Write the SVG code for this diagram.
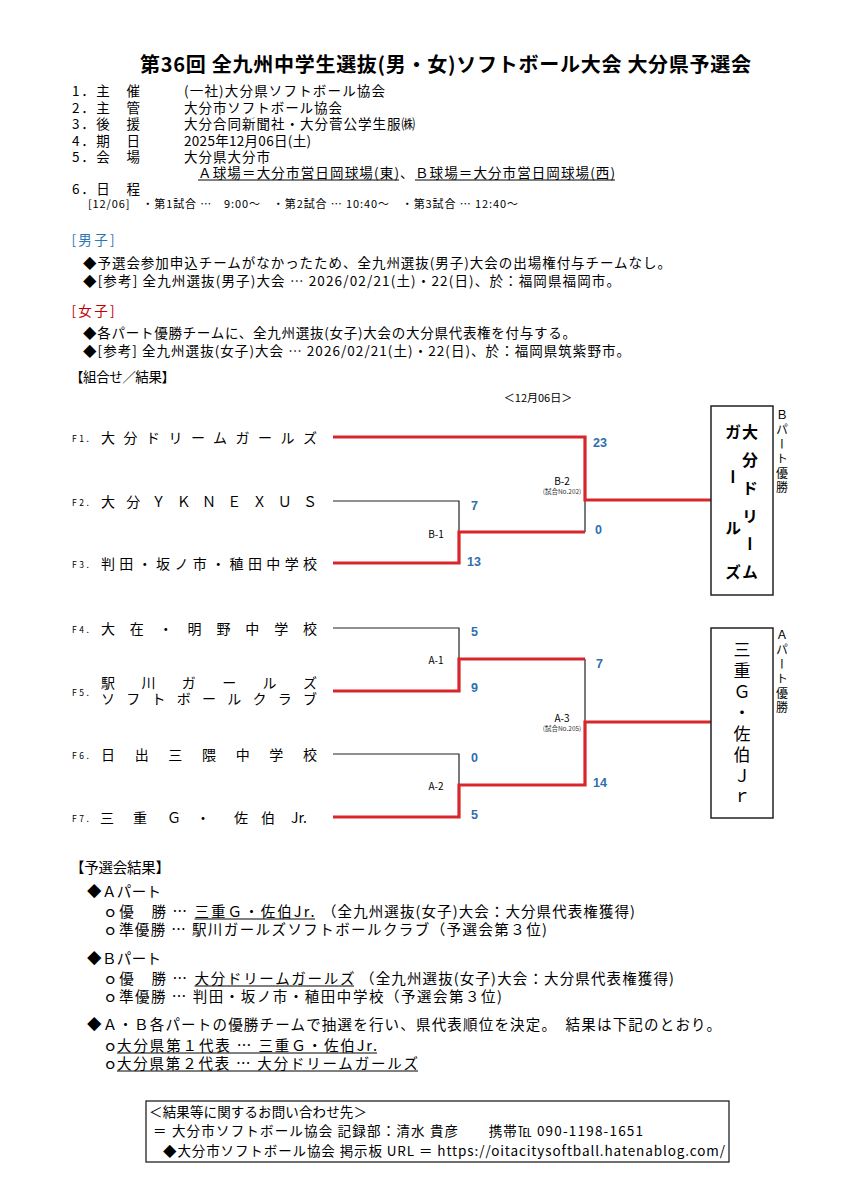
<svg xmlns="http://www.w3.org/2000/svg" width="848" height="1200" viewBox="0 0 848 1200">
<style>
text{font-family:"Noto Sans CJK JP","Noto Sans",sans-serif;fill:#000;dominant-baseline:central}
.title{font-size:20px;font-weight:bold}
.h{font-size:13.5px}
.s{font-size:11px}
.r{font-size:14.5px}
.f{font-size:13.5px}
.team{font-size:14px}
.fl{font-size:8.5px;letter-spacing:2.5px}
.lbl{font-size:10px;text-anchor:middle}
.no{font-size:6.5px;text-anchor:middle;fill:#333}
.sc{font-family:"Liberation Sans",Arial,sans-serif;font-size:12.5px;font-weight:bold;fill:#2e6fad}
.v{writing-mode:vertical-rl}
.red{fill:none;stroke:#d8262a;stroke-width:3.2}
.blk{fill:none;stroke:#222;stroke-width:1.2}
.box{fill:#fff;stroke:#222;stroke-width:1.5}
.ul{stroke:#000;stroke-width:1}
</style>
<rect width="848" height="1200" fill="#fff"/>

<g id="header">
<text class="title" x="140" y="63" textLength="611">第36回 全九州中学生選抜(男・女)ソフトボール大会 大分県予選会</text>
<text class="h" x="72" y="90" textLength="68">1．主　催</text>
<text class="h" x="184" y="90" textLength="201">(一社)大分県ソフトボール協会</text>
<text class="h" x="72" y="106.5" textLength="68">2．主　管</text>
<text class="h" x="184" y="106.5" textLength="158">大分市ソフトボール協会</text>
<text class="h" x="72" y="123" textLength="68">3．後　援</text>
<text class="h" x="184" y="123" textLength="231">大分合同新聞社・大分菅公学生服㈱</text>
<text class="h" x="72" y="139.5" textLength="68">4．期　日</text>
<text class="h" x="184" y="139.5" textLength="127">2025年12月06日(土)</text>
<text class="h" x="72" y="156" textLength="68">5．会　場</text>
<text class="h" x="184" y="156" textLength="86">大分県大分市</text>
<text class="h" x="198" y="172" textLength="201">Ａ球場＝大分市営日岡球場(東)</text>
<text class="h" x="400" y="172">、</text>
<text class="h" x="415" y="172" textLength="200">Ｂ球場＝大分市営日岡球場(西)</text>
<line class="ul" x1="198" y1="180" x2="399" y2="180"/>
<line class="ul" x1="415" y1="180" x2="615" y2="180"/>
<text class="h" x="72" y="188" textLength="68">6．日　程</text>
<text class="s" x="88" y="203" textLength="430">[12/06]　・第1試合 …　9:00～　・第2試合 … 10:40～　・第3試合 … 12:40～</text>
</g>

<g id="notes">
<text class="h" x="71.5" y="239" textLength="43" style="fill:#2e75b6">[男子]</text>
<text class="h" x="83" y="262" textLength="588">◆予選会参加申込チームがなかったため、全九州選抜(男子)大会の出場権付与チームなし。</text>
<text class="h" x="83" y="280" textLength="537">◆[参考] 全九州選抜(男子)大会 … 2026/02/21(土)・22(日)、於：福岡県福岡市。</text>
<text class="h" x="71.5" y="310" textLength="43" style="fill:#c00000">[女子]</text>
<text class="h" x="83" y="332" textLength="493">◆各パート優勝チームに、全九州選抜(女子)大会の大分県代表権を付与する。</text>
<text class="h" x="83" y="350" textLength="547">◆[参考] 全九州選抜(女子)大会 … 2026/02/21(土)・22(日)、於：福岡県筑紫野市。</text>
<text class="h" x="70" y="376" textLength="105">【組合せ／結果】</text>
<text x="538" y="397" style="font-size:11px;text-anchor:middle">＜12月06日＞</text>
</g>

<g id="connectors">
<path class="blk" d="M333,501 H459 V532"/>
<path class="blk" d="M585,500 V532"/>
<path class="blk" d="M333,628 H459 V659"/>
<path class="blk" d="M333,754 H459 V785"/>
<path class="blk" d="M585,659 V722"/>
<path class="red" d="M333,437 H585 V500 H711"/>
<path class="red" d="M333,563 H459 V532 H585"/>
<path class="red" d="M333,691 H459 V659 H585"/>
<path class="red" d="M333,817 H459 V785 H585 V722 H711"/>
</g>

<g id="matches">
<text class="lbl" x="436" y="533">B-1</text>
<text class="lbl" x="562" y="480">B-2</text>
<text class="no" x="562" y="491">(試合No.202)</text>
<text class="lbl" x="436" y="659">A-1</text>
<text class="lbl" x="436" y="785">A-2</text>
<text class="lbl" x="562" y="717">A-3</text>
<text class="no" x="562" y="728">(試合No.205)</text>
<text class="sc" x="593" y="443">23</text>
<text class="sc" x="471" y="506">7</text>
<text class="sc" x="595" y="530">0</text>
<text class="sc" x="467" y="562">13</text>
<text class="sc" x="471" y="632">5</text>
<text class="sc" x="471" y="688">9</text>
<text class="sc" x="596" y="664">7</text>
<text class="sc" x="471" y="758">0</text>
<text class="sc" x="593" y="783">14</text>
<text class="sc" x="471" y="815">5</text>
</g>

<g id="F1"><text class="fl" x="72" y="438">F1.</text><text class="team" x="101" y="437" textLength="216">大分ドリームガールズ</text></g>
<g id="F2"><text class="fl" x="72" y="502">F2.</text><text class="team" x="101" y="501" textLength="216">大分ＹＫＮＥＸＵＳ</text></g>
<g id="F3"><text class="fl" x="72" y="564">F3.</text><text class="team" x="101" y="563" textLength="216">判田・坂ノ市・稙田中学校</text></g>
<g id="F4"><text class="fl" x="72" y="629">F4.</text><text class="team" x="101" y="628" textLength="216">大在・明野中学校</text></g>
<g id="F5"><text class="fl" x="72" y="692">F5.</text><text class="team" x="101" y="682" textLength="216">駅川ガールズ</text><text class="team" x="101" y="698" textLength="216">ソフトボールクラブ</text></g>
<g id="F6"><text class="fl" x="72" y="755">F6.</text><text class="team" x="101" y="754" textLength="216">日出三隈中学校</text></g>
<g id="F7"><text class="fl" x="72" y="818">F7.</text><text class="team" y="817"><tspan x="100">三</tspan><tspan x="133">重</tspan><tspan x="167">Ｇ</tspan><tspan x="196">・</tspan><tspan x="234">佐</tspan><tspan x="261">伯</tspan><tspan x="291">Jr.</tspan></text></g>

<g id="winnerB">
<rect class="box" x="711" y="406" width="62" height="189"/>
<text class="v" x="750" y="424" style="font-size:16px;font-weight:bold;letter-spacing:12px">大分ドリーム</text>
<text class="v" x="733" y="424" style="font-size:16px;font-weight:bold"><tspan y="424">ガ</tspan><tspan y="469">ー</tspan><tspan y="520">ル</tspan><tspan y="564">ズ</tspan></text>
<text class="v" x="782" y="409" style="font-size:12px;letter-spacing:2.5px">Ｂパート優勝</text>
</g>

<g id="winnerA">
<rect class="box" x="711" y="628" width="62" height="190"/>
<text class="v" x="742" y="641.5" style="font-size:17px;letter-spacing:4px">三重Ｇ・佐伯Ｊｒ</text>
<text class="v" x="782" y="629" style="font-size:12px;letter-spacing:2.5px">Ａパート優勝</text>
</g>

<g id="results">
<text class="r" x="70" y="866" textLength="100">【予選会結果】</text>
<text class="r" x="87" y="890" textLength="74">◆Ａパート</text>
<text class="r" x="103" y="910" textLength="84">ｏ優　勝 …</text>
<text class="r" x="194.5" y="910" textLength="120">三重Ｇ・佐伯Jr.</text>
<line class="ul" x1="194.5" y1="919" x2="315" y2="919"/>
<text class="r" x="322" y="910" textLength="313">（全九州選抜(女子)大会：大分県代表権獲得)</text>
<text class="r" x="103" y="928" textLength="444">ｏ準優勝 … 駅川ガールズソフトボールクラブ（予選会第３位)</text>
<text class="r" x="87" y="957" textLength="74">◆Ｂパート</text>
<text class="r" x="103" y="977" textLength="84">ｏ優　勝 …</text>
<text class="r" x="194.5" y="977" textLength="160">大分ドリームガールズ</text>
<line class="ul" x1="194.5" y1="986" x2="354" y2="986"/>
<text class="r" x="360" y="977" textLength="314">（全九州選抜(女子)大会：大分県代表権獲得)</text>
<text class="r" x="103" y="995" textLength="399">ｏ準優勝 … 判田・坂ノ市・稙田中学校（予選会第３位)</text>
<text class="r" x="87" y="1023" textLength="634">◆Ａ・Ｂ各パートの優勝チームで抽選を行い、県代表順位を決定。　結果は下記のとおり。</text>
<text class="r" x="103" y="1044">ｏ</text>
<text class="r" x="117" y="1044" textLength="260">大分県第１代表 …  三重Ｇ・佐伯Jr.</text>
<line class="ul" x1="117" y1="1053" x2="377" y2="1053"/>
<text class="r" x="103" y="1062">ｏ</text>
<text class="r" x="117" y="1062" textLength="301">大分県第２代表 …  大分ドリームガールズ</text>
<line class="ul" x1="117" y1="1071" x2="418" y2="1071"/>
</g>

<g id="contact">
<rect x="146" y="1101" width="583" height="61" fill="#fff" stroke="#222" stroke-width="1.3"/>
<text class="f" x="149" y="1111" textLength="218">＜結果等に関するお問い合わせ先＞</text>
<text class="f" x="153" y="1130" textLength="490">＝ 大分市ソフトボール協会 記録部：清水 貴彦　　携帯℡ 090-1198-1651</text>
<text class="f" x="163" y="1150" textLength="562">◆大分市ソフトボール協会 掲示板 URL ＝ https://oitacitysoftball.hatenablog.com/</text>
</g>
</svg>
